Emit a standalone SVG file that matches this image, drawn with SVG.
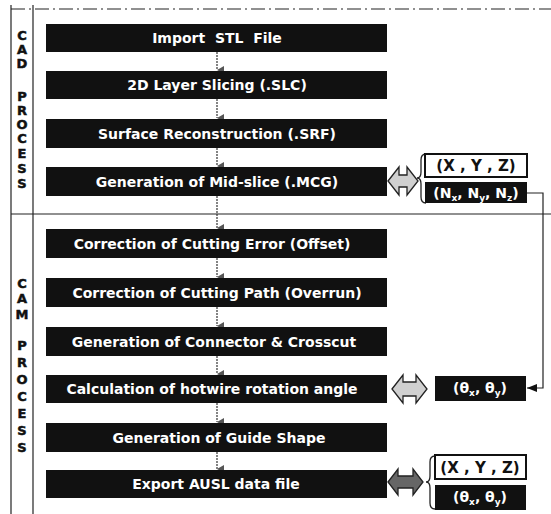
<svg xmlns="http://www.w3.org/2000/svg" width="551" height="514" viewBox="0 0 551 514">
<defs>
<style>
.box{fill:#111;}
.bt{font-family:"DejaVu Sans",Verdana,sans-serif;font-weight:bold;font-size:14px;fill:#fff;text-anchor:middle;}
.side{font-family:"DejaVu Sans",Verdana,sans-serif;font-weight:bold;font-size:13px;fill:#111;stroke:#111;stroke-width:0.5;text-anchor:middle;}
.frame{stroke:#222;stroke-width:1.2;fill:none;}
.conn{stroke:#333;stroke-width:1.2;fill:none;stroke-dasharray:2 1;}
.wbox{fill:#fff;stroke:#111;stroke-width:2;}
.wt{font-family:"DejaVu Sans",Verdana,sans-serif;font-weight:bold;font-size:15px;fill:#111;text-anchor:middle;}
.dt{font-family:"DejaVu Sans",Verdana,sans-serif;font-weight:bold;font-size:14px;fill:#fff;text-anchor:middle;}
.sub{font-size:9px;}
.brace{fill:none;stroke:#222;stroke-width:1.3;}
.dbl{fill:#d0d0d0;stroke:#222;stroke-width:1.3;}
.dbl2{fill:#666;stroke:#222;stroke-width:1.3;}
</style>
<marker id="ah" markerWidth="8" markerHeight="8" refX="4" refY="7" orient="auto-start-reverse" markerUnits="userSpaceOnUse" viewBox="0 0 8 8">
<path d="M0,0 L8,0 L4,7 Z" fill="#555"/>
</marker>
<marker id="ahl" markerWidth="10" markerHeight="8" refX="10" refY="4" orient="auto" markerUnits="userSpaceOnUse" viewBox="0 0 10 8">
<path d="M0,0 L10,4 L0,8 Z" fill="#111"/>
</marker>
</defs>
<rect width="551" height="514" fill="#fff"/>
<g id="frame">
<line class="frame" x1="11" y1="9" x2="551" y2="9" stroke-dasharray="14 4 2 4"/>
<line class="frame" x1="11" y1="5" x2="11" y2="514"/>
<line class="frame" x1="33" y1="5" x2="33" y2="514"/>
<line class="frame" x1="11" y1="214" x2="551" y2="214"/>
</g>
<g id="cad-label">
<text class="side"><tspan x="22" y="40">C</tspan><tspan x="22" y="54">A</tspan><tspan x="22" y="68">D</tspan><tspan x="22" y="101">P</tspan><tspan x="22" y="115">R</tspan><tspan x="22" y="129">O</tspan><tspan x="22" y="143">C</tspan><tspan x="22" y="158">E</tspan><tspan x="22" y="173">S</tspan><tspan x="22" y="188">S</tspan></text>
</g>
<g id="cam-label">
<text class="side"><tspan x="22" y="288">C</tspan><tspan x="22" y="303">A</tspan><tspan x="22" y="319">M</tspan><tspan x="22" y="350">P</tspan><tspan x="22" y="367">R</tspan><tspan x="22" y="384">O</tspan><tspan x="22" y="401">C</tspan><tspan x="22" y="418">E</tspan><tspan x="22" y="435">S</tspan><tspan x="22" y="452">S</tspan></text>
</g>
<g id="connectors">
<line class="conn" x1="217" y1="52" x2="217" y2="70" marker-end="url(#ah)"/>
<line class="conn" x1="217" y1="99" x2="217" y2="118" marker-end="url(#ah)"/>
<line class="conn" x1="217" y1="148" x2="217" y2="166" marker-end="url(#ah)"/>
<line class="conn" x1="217" y1="196" x2="217" y2="228" marker-end="url(#ah)"/>
<line class="conn" x1="217" y1="258" x2="217" y2="277" marker-end="url(#ah)"/>
<line class="conn" x1="217" y1="307" x2="217" y2="326" marker-end="url(#ah)"/>
<line class="conn" x1="217" y1="356" x2="217" y2="374" marker-end="url(#ah)"/>
<line class="conn" x1="217" y1="403" x2="217" y2="422" marker-end="url(#ah)"/>
<line class="conn" x1="217" y1="452" x2="217" y2="469" marker-end="url(#ah)"/>
<polyline points="527,193 543,193 543,388 527,388" fill="none" stroke="#222" stroke-width="1.2" marker-end="url(#ahl)"/>
</g>
<g id="n1"><rect class="box" x="46" y="24" width="341" height="28"/><text class="bt" x="217" y="43" xml:space="preserve">Import  STL  File</text></g>
<g id="n2"><rect class="box" x="46" y="71" width="341" height="28"/><text class="bt" x="217" y="90">2D Layer Slicing (.SLC)</text></g>
<g id="n3"><rect class="box" x="46" y="119" width="341" height="29"/><text class="bt" x="217" y="138.5">Surface Reconstruction (.SRF)</text></g>
<g id="n4"><rect class="box" x="46" y="167" width="341" height="29"/><text class="bt" x="217" y="186.5">Generation of Mid-slice (.MCG)</text></g>
<g id="n5"><rect class="box" x="46" y="229" width="341" height="29"/><text class="bt" x="212" y="248.5">Correction of Cutting Error (Offset)</text></g>
<g id="n6"><rect class="box" x="46" y="278" width="341" height="29"/><text class="bt" x="217" y="297.5">Correction of Cutting Path (Overrun)</text></g>
<g id="n7"><rect class="box" x="46" y="327" width="341" height="29"/><text class="bt" x="214" y="346.5">Generation of Connector &amp; Crosscut</text></g>
<g id="n8"><rect class="box" x="46" y="375" width="341" height="28"/><text class="bt" x="212" y="394">Calculation of hotwire rotation angle</text></g>
<g id="n9"><rect class="box" x="46" y="423" width="341" height="29"/><text class="bt" x="219" y="442.5">Generation of Guide Shape</text></g>
<g id="n10"><rect class="box" x="46" y="470" width="341" height="28"/><text class="bt" x="216" y="489">Export AUSL data file</text></g>
<g id="midslice-io">
<path class="dbl" d="M388,181 L399,167 L399,175 L407,175 L407,167 L418,181 L407,195 L407,187 L399,187 L399,195 Z"/>
<path class="brace" d="M426,154 Q421,154 421,160 L421,172 Q421,178 417,178 Q421,178 421,184 L421,197 Q421,203 426,203"/>
<rect class="wbox" x="425" y="154" width="102" height="23"/>
<text class="wt" x="476" y="171">(X , Y , Z)</text>
<rect class="box" x="425" y="182" width="102" height="21"/>
<text class="dt" x="476" y="198">(N<tspan class="sub" dy="3">x</tspan><tspan dy="-3">, N</tspan><tspan class="sub" dy="3">y</tspan><tspan dy="-3">, N</tspan><tspan class="sub" dy="3">z</tspan><tspan dy="-3">)</tspan></text>
</g>
<g id="angle-io">
<path class="dbl" d="M392,389 L403,375 L403,382 L416,382 L416,375 L427,389 L416,403 L416,396 L403,396 L403,403 Z"/>
<rect class="box" x="435" y="376" width="91" height="25"/>
<text class="dt" x="480" y="393">(θ<tspan class="sub" dy="3">x</tspan><tspan dy="-3">, θ</tspan><tspan class="sub" dy="3">y</tspan><tspan dy="-3">)</tspan></text>
</g>
<g id="export-io">
<path class="dbl2" d="M388,482 L398,469 L398,476 L413,476 L413,469 L423,482 L413,495 L413,488 L398,488 L398,495 Z"/>
<path class="brace" d="M435,456 Q430,456 430,462 L430,476 Q430,482 426,482 Q430,482 430,488 L430,503 Q430,509 435,509"/>
<rect class="wbox" x="435" y="455" width="91" height="24"/>
<text class="wt" x="480" y="473">(X , Y , Z)</text>
<rect class="box" x="435" y="485" width="91" height="25"/>
<text class="dt" x="480" y="502">(θ<tspan class="sub" dy="3">x</tspan><tspan dy="-3">, θ</tspan><tspan class="sub" dy="3">y</tspan><tspan dy="-3">)</tspan></text>
</g>
</svg>
